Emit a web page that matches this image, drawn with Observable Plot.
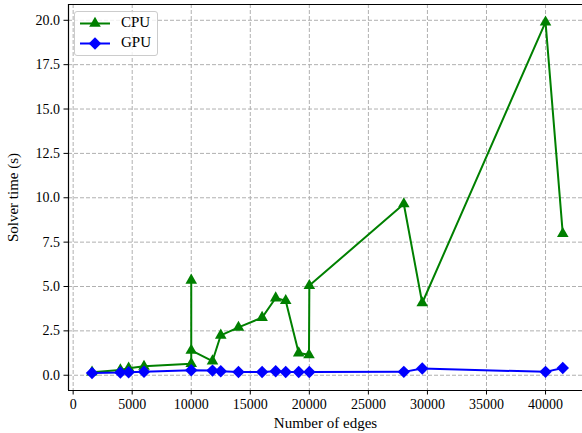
<!DOCTYPE html>
<html>
<head>
<meta charset="utf-8">
<script src="https://cdn.jsdelivr.net/npm/d3@7"></script>
<script src="https://cdn.jsdelivr.net/npm/@observablehq/plot@0.6"></script>
<style>
  html, body { margin: 0; padding: 0; background: white; overflow: hidden; }
  #wrap { position: relative; width: 582px; height: 433px; }
  #legend {
    position: absolute; left: 74px; top: 11px; width: 82px; height: 43px;
    border: 1px solid #cccccc; border-radius: 3px; background: rgba(255,255,255,0.8);
    font-family: "Liberation Serif", serif; font-size: 15px; color: black;
  }
  #legend .row { position: absolute; left: 0; height: 20px; width: 82px; }
  #legend svg { position: absolute; left: 0; top: 0; }
  #legend span { position: absolute; left: 46px; top: 1px; }
</style>
</head>
<body>
<div id="wrap">
  <div id="chart"></div>
  <div id="legend"></div>
</div>
<script>
// ---- data ----
const cpuEdges = [1600, 4000, 4700, 6000, 10000, 10000, 10000, 11800, 12500, 14000, 16000, 17150, 18000, 19100, 19970, 20000, 28000, 29560, 40000, 41460];
const cpuTime  = [0.17, 0.3, 0.4, 0.5, 0.65, 5.35, 1.4, 0.8, 2.25, 2.7, 3.25, 4.35, 4.2, 1.25, 1.15, 5.05, 9.65, 4.07, 19.9, 7.98];
const gpuEdges = [1600, 4000, 4700, 6000, 10000, 11800, 12500, 14000, 16000, 17150, 18000, 19100, 20000, 28000, 29560, 40000, 41460];
const gpuTime  = [0.13, 0.15, 0.17, 0.2, 0.28, 0.26, 0.22, 0.18, 0.18, 0.22, 0.18, 0.18, 0.18, 0.19, 0.38, 0.19, 0.41];
const xTicks = [0, 5000, 10000, 15000, 20000, 25000, 30000, 35000, 40000];
const yTicks = [0, 2.5, 5, 7.5, 10, 12.5, 15, 17.5, 20];
const seriesNames = ["CPU", "GPU"];
const seriesColors = ["green", "blue"];

const cpu = cpuEdges.map((e, i) => ({edges: e, time: cpuTime[i]}));
const gpu = gpuEdges.map((e, i) => ({edges: e, time: gpuTime[i]}));

const xDomain = [-393, 43130];
const yDomain = [-0.86, 20.89];
const gridStyle = {stroke: "#b0b0b0", strokeOpacity: 1, strokeWidth: 1, strokeDasharray: "4,2"};
const triR = 4.3, diaR = 5.6;

const chart = Plot.plot({
  width: 582,
  height: 433,
  marginLeft: 68,
  marginTop: 4,
  marginBottom: 43,
  marginRight: 0,
  style: {fontFamily: "'Liberation Serif', serif", fontSize: "14px", color: "black", background: "white"},
  x: {domain: xDomain},
  y: {domain: yDomain},
  marks: [
    Plot.gridX(xTicks, gridStyle),
    Plot.gridY(yTicks, gridStyle),
    Plot.axisX(xTicks, {tickSize: 4.5, tickPadding: 4, tickFormat: d => String(d), label: null, fontSize: 14}),
    Plot.axisX({label: "Number of edges", labelAnchor: "center", labelArrow: "none", labelOffset: 37, ticks: [], fontSize: 15}),
    Plot.axisY(yTicks, {tickSize: 4.5, tickPadding: 4, tickFormat: d3.format(".1f"), label: null, fontSize: 14}),
    Plot.axisY({label: "Solver time (s)", labelAnchor: "center", labelArrow: "none", labelOffset: 61, ticks: [], fontSize: 15}),
    Plot.ruleX([xDomain[0]], {stroke: "black", strokeWidth: 1.2}),
    Plot.ruleY([yDomain[0]], {stroke: "black", strokeWidth: 1.2}),
    Plot.ruleY([yDomain[1]], {stroke: "black", strokeWidth: 1.2}),
    Plot.line(cpu, {x: "edges", y: "time", stroke: seriesColors[0], strokeWidth: 2}),
    Plot.dot(cpu, {x: "edges", y: "time", symbol: "triangle", fill: seriesColors[0], r: triR}),
    Plot.line(gpu, {x: "edges", y: "time", stroke: seriesColors[1], strokeWidth: 2}),
    Plot.dot(gpu, {x: "edges", y: "time", symbol: "diamond2", fill: seriesColors[1], stroke: "none", r: diaR})
  ]
});
document.getElementById("chart").appendChild(chart);

// legend
const legend = document.getElementById("legend");
const symbols = [d3.symbol(d3.symbolTriangle, Math.PI * triR * triR)(), d3.symbol(d3.symbolDiamond2, Math.PI * diaR * diaR)()];
seriesNames.forEach((name, i) => {
  const row = document.createElement("div");
  row.className = "row";
  row.style.top = (i * 20 + 1) + "px";
  row.innerHTML = `<svg width="44" height="20"><line x1="5" x2="35" y1="10.5" y2="10.5" stroke="${seriesColors[i]}" stroke-width="2"/><path d="${symbols[i]}" transform="translate(20,10.5)" fill="${seriesColors[i]}"/></svg><span>${name}</span>`;
  legend.appendChild(row);
});
</script>
</body>
</html>
